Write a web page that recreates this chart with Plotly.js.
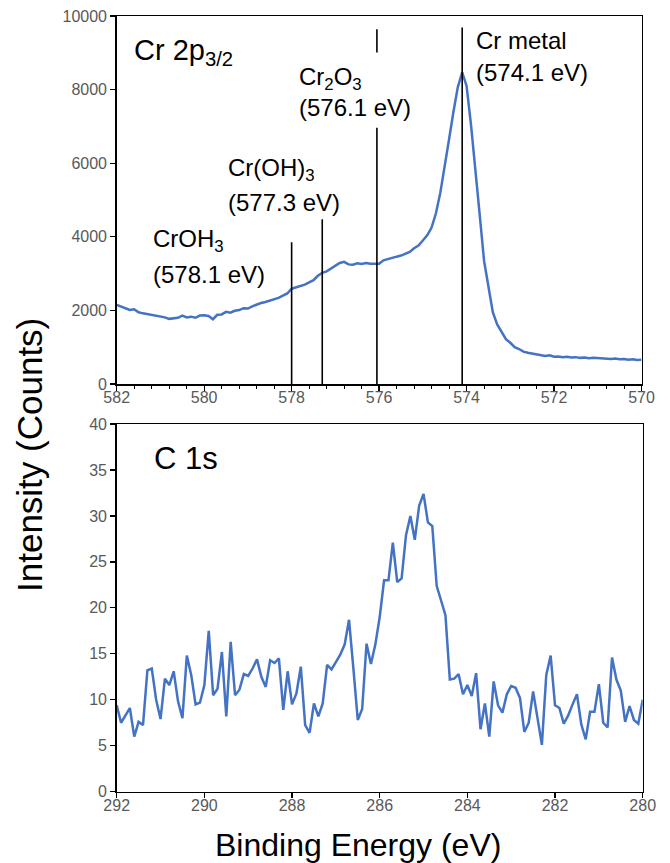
<!DOCTYPE html>
<html>
<head>
<meta charset="utf-8">
<script src="https://cdn.plot.ly/plotly-3.0.1.min.js"></script>
<style>
  html, body { margin: 0; padding: 0; background: #fff; }
  #chart { width: 670px; height: 863px; }
</style>
</head>
<body>
<div id="chart"></div>
<script>
// ---------- DATA ----------
// Cr 2p3/2 spectrum: binding energy from 582.0 eV down to 570.0 eV in 0.1 eV steps
const crStart = 582.0;
const crStep = -0.1;
const crCounts = [
  2150, 2110, 2060, 2010, 2030, 1950, 1920, 1900, 1880, 1850,
  1840, 1810, 1770, 1790, 1800, 1860, 1810, 1830, 1800, 1860,
  1870, 1850, 1760, 1880, 1890, 1960, 1940, 1990, 2010, 2060,
  2050, 2110, 2160, 2200, 2230, 2260, 2300, 2340, 2400, 2460,
  2590, 2620, 2650, 2700, 2760, 2820, 2940, 3020, 3060, 3130,
  3200, 3290, 3320, 3250, 3240, 3280, 3260, 3290, 3270, 3280,
  3270, 3360, 3400, 3440, 3460, 3490, 3530, 3590, 3690, 3760,
  3900, 4040, 4250, 4640, 5200, 5980, 6650, 7400, 8070, 8470,
  8100, 7060, 5900, 4600, 3350, 2650, 1950, 1620, 1400, 1220,
  1120, 1000, 950, 880, 850, 830, 800, 790, 760, 780,
  740, 750, 730, 740, 720, 730, 710, 720, 700, 710,
  700, 690, 700, 680, 690, 670, 680, 660, 670, 650,
  660
];

// C 1s spectrum: binding energy from 292.0 eV down to 280.0 eV in 0.1 eV steps
const cStart = 292.0;
const cStep = -0.1;
const cCounts = [
  9.4, 7.5, 8.3, 9.1, 6.0, 7.6, 7.25, 13.2, 13.4, 10.0,
  7.9, 12.3, 11.6, 13.1, 9.8, 8.0, 14.8, 12.7, 9.5, 9.7,
  11.6, 17.5, 10.5, 11.2, 15.2, 8.2, 16.3, 10.5, 11.1, 12.8,
  12.6, 13.4, 14.4, 12.5, 11.4, 14.3, 14.0, 14.5, 8.9, 13.1,
  9.5, 10.7, 13.6, 7.25, 6.4, 9.6, 8.2, 9.6, 13.8, 13.3,
  14.1, 14.9, 16.0, 18.7, 13.4, 7.8, 9.0, 16.1, 13.9, 16.0,
  19.0, 23.0, 23.0, 27.1, 22.8, 23.2, 27.9, 30.0, 27.4, 31.1,
  32.4, 29.3, 28.9, 22.4, 20.8, 19.2, 12.2, 12.3, 12.8, 10.6,
  11.6, 10.4, 12.9, 6.8, 9.6, 6.0, 12.0, 9.4, 8.6, 10.6,
  11.5, 11.3, 10.2, 6.5, 7.5, 10.9, 8.0, 5.1, 12.7, 14.8,
  9.4, 9.1, 7.4, 8.3, 9.5, 10.6, 7.3, 5.7, 8.7, 8.7,
  11.7, 7.5, 7.0, 14.6, 12.2, 11.0, 7.6, 9.3, 7.8, 7.4,
  10.0
];

// Reference peak-position marker lines (Cr 2p panel)
const markerX      = [578.0, 577.3, 576.05, 576.05, 574.1];
const markerBottom = [0,     0,     0,      9010,   0];
const markerTop    = [3850,  4480,  6960,   9640,   9690];

// Labels
const crPanelLabel = 'Cr 2p<sub>3/2</sub>';
const cPanelLabel = 'C 1s';
const speciesNames = ['CrOH<sub>3</sub>', 'Cr(OH)<sub>3</sub>', 'Cr<sub>2</sub>O<sub>3</sub>', 'Cr metal'];
const speciesEnergies = ['(578.1 eV)', '(577.3 eV)', '(576.1 eV)', '(574.1 eV)'];

// Axis ticks
const crXTicks = [582, 580, 578, 576, 574, 572, 570];
const crYTicks = [0, 2000, 4000, 6000, 8000, 10000];
const cXTicks = [292, 290, 288, 286, 284, 282, 280];
const cYTicks = [0, 5, 10, 15, 20, 25, 30, 35, 40];

// ---------- LAYOUT HELPERS ----------
const W = 670, H = 863;
const px = v => v / W;
const py = v => 1 - v / H;
const FONT = 'Liberation Sans, Arial, sans-serif';
const BLUE = '#4472C4';
const TICKGRAY = '#595959';

const traces = [
  {
    type: 'scatter', mode: 'lines',
    x0: crStart, dx: crStep, y: crCounts,
    xaxis: 'x', yaxis: 'y',
    line: { color: BLUE, width: 2.5 },
    hoverinfo: 'skip', showlegend: false
  },
  {
    type: 'scatter', mode: 'lines',
    x0: cStart, dx: cStep, y: cCounts,
    xaxis: 'x2', yaxis: 'y2',
    line: { color: BLUE, width: 2.5 },
    hoverinfo: 'skip', showlegend: false
  }
];

const shapes = markerX.map((xv, i) => ({
  type: 'line', xref: 'x', yref: 'y',
  x0: xv, x1: xv, y0: markerBottom[i], y1: markerTop[i],
  line: { color: '#000', width: 1.6 }
}));

// label positions (pixel space) for species labels
const namePos   = [[150.7, 240.5], [225.7, 170], [296.7, 78.5], [474, 40.5]];
const energyPos = [[150.7, 274],   [225.7, 202], [296.7, 107],  [474, 72.5]];

const annotations = [];
speciesNames.forEach((t, i) => {
  annotations.push({
    xref: 'paper', yref: 'paper', x: px(namePos[i][0]), y: py(namePos[i][1]),
    xanchor: 'left', yanchor: 'middle', showarrow: false, text: t,
    font: { family: FONT, size: 24, color: '#000' }
  });
  annotations.push({
    xref: 'paper', yref: 'paper', x: px(energyPos[i][0]), y: py(energyPos[i][1]),
    xanchor: 'left', yanchor: 'middle', showarrow: false, text: speciesEnergies[i],
    font: { family: FONT, size: 24, color: '#000' }
  });
});
annotations.push({
  xref: 'paper', yref: 'paper', x: px(132), y: py(52),
  xanchor: 'left', yanchor: 'middle', showarrow: false, text: crPanelLabel,
  font: { family: FONT, size: 29, color: '#000' }
});
annotations.push({
  xref: 'paper', yref: 'paper', x: px(152), y: py(458),
  xanchor: 'left', yanchor: 'middle', showarrow: false, text: cPanelLabel,
  font: { family: FONT, size: 31, color: '#000' }
});
annotations.push({
  xref: 'paper', yref: 'paper', x: px(29), y: py(455),
  xanchor: 'center', yanchor: 'middle', showarrow: false, textangle: -90,
  text: 'Intensity (Counts)',
  font: { family: FONT, size: 35, color: '#000' }
});
annotations.push({
  xref: 'paper', yref: 'paper', x: px(358), y: py(845),
  xanchor: 'center', yanchor: 'middle', showarrow: false,
  text: 'Binding Energy (eV)',
  font: { family: FONT, size: 32, color: '#000' }
});

const axisCommon = {
  showgrid: false, zeroline: false,
  showline: true, linecolor: '#000', linewidth: 1.5, mirror: true,
  ticks: 'outside', ticklen: 5, tickcolor: '#000', tickwidth: 1.3,
  tickfont: { family: FONT, size: 16, color: TICKGRAY },
  tickmode: 'array'
};

const layout = {
  width: W, height: H,
  margin: { l: 0, r: 0, t: 0, b: 0 },
  paper_bgcolor: '#fff', plot_bgcolor: '#fff',
  showlegend: false,
  xaxis: Object.assign({}, axisCommon, {
    domain: [px(116.7), px(641.5)], anchor: 'y',
    range: [582, 570], tickvals: crXTicks, ticktext: crXTicks.map(String),
    ticklabelstandoff: -7,
    minor: { dtick: 0.4, tick0: 582, ticks: 'outside', ticklen: 3, tickcolor: '#000', tickwidth: 1 }
  }),
  yaxis: Object.assign({}, axisCommon, {
    domain: [py(384), py(16)], anchor: 'x',
    range: [0, 10000], tickvals: crYTicks, ticktext: crYTicks.map(String)
  }),
  xaxis2: Object.assign({}, axisCommon, {
    domain: [px(116.7), px(642.7)], anchor: 'y2',
    range: [292, 280], tickvals: cXTicks, ticktext: cXTicks.map(String),
    ticklabelstandoff: -6
  }),
  yaxis2: Object.assign({}, axisCommon, {
    domain: [py(791.7), py(424)], anchor: 'x2',
    range: [0, 40], tickvals: cYTicks, ticktext: cYTicks.map(String)
  }),
  shapes: shapes,
  annotations: annotations
};

Plotly.newPlot('chart', traces, layout, { staticPlot: true, displayModeBar: false });
</script>
</body>
</html>
